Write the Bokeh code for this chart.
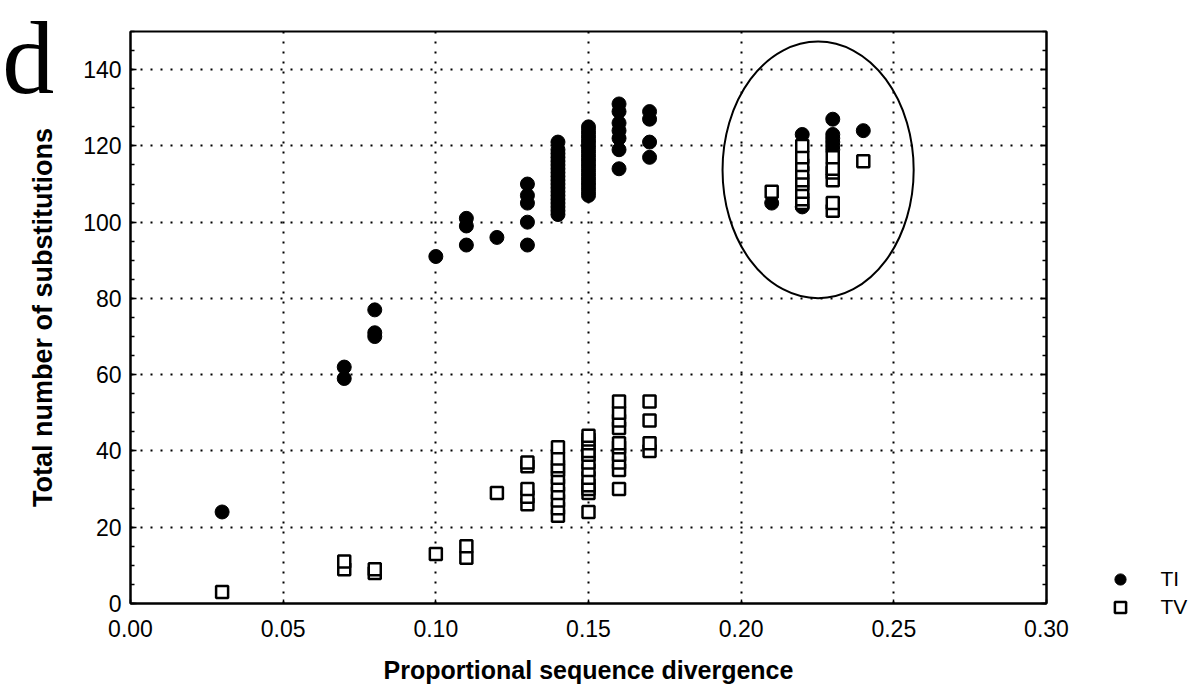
from bokeh.plotting import figure
from bokeh.models import (Range1d, FixedTicker, Legend, LegendItem, Label,
                          LinearAxis, NumeralTickFormatter, ColumnDataSource)
from bokeh.embed import file_html
from bokeh.resources import INLINE

# ---------------- data ----------------
divergence_levels = [0.03, 0.07, 0.08, 0.10, 0.11, 0.12, 0.13, 0.14,
                     0.15, 0.16, 0.17, 0.21, 0.22, 0.23, 0.24]

ti_counts = [
    [24],
    [59, 62],
    [70, 71, 77],
    [91],
    [94, 99, 101],
    [96],
    [94, 100, 105, 107, 110],
    [102, 103, 104, 105, 106, 107, 108, 109, 110, 111, 112, 113, 114, 115,
     116, 117, 118, 119, 121],
    [107, 108, 109, 110, 111, 112, 113, 114, 115, 116, 117, 118, 119, 120,
     121, 122, 123, 124, 125],
    [114, 119, 122, 124, 126, 129, 131],
    [117, 121, 127, 129],
    [105],
    [104, 123],
    [119, 120, 121, 122, 123, 127],
    [124],
]

tv_counts = [
    [3],
    [9, 11],
    [8, 9],
    [13],
    [12, 15],
    [29],
    [26, 28, 30, 36, 37],
    [23, 25, 27, 29, 31, 33, 35, 36, 38, 41],
    [24, 29, 30, 31, 33, 35, 37, 39, 40, 42, 43, 44],
    [30, 35, 37, 39, 41, 42, 46, 48, 50, 53],
    [40, 42, 48, 53],
    [108],
    [105, 106, 108, 110, 111, 113, 115, 117, 120],
    [103, 105, 111, 113, 114, 117],
    [116],
]

series_labels = ["TI", "TV"]
x_ticks = [0.00, 0.05, 0.10, 0.15, 0.20, 0.25, 0.30]
y_ticks = [0, 20, 40, 60, 80, 100, 120, 140]
y_minor = list(range(0, 151, 5))

# highlighted group (ellipse) in data units
ellipse_center = (0.2252, 113.7)
ellipse_size = (0.0626, 67.3)


def flatten(levels, groups):
    xs, ys = [], []
    for lv, vals in zip(levels, groups):
        for v in vals:
            xs.append(lv)
            ys.append(v)
    return xs, ys


ti_x, ti_y = flatten(divergence_levels, ti_counts)
tv_x, tv_y = flatten(divergence_levels, tv_counts)

FONT = "Liberation Sans"

p = figure(frame_width=916, frame_height=572,
           x_range=Range1d(0, 0.30), y_range=Range1d(0, 150),
           output_backend="svg", toolbar_location=None,
           min_border_left=130, min_border_right=151,
           min_border_top=31, min_border_bottom=85,
           background_fill_color="white", border_fill_color="white")

p.outline_line_color = "black"
p.outline_line_width = 2

# grids
for g in (p.xgrid, p.ygrid):
    g.grid_line_color = "black"
    g.grid_line_dash = "2 8"
    g.grid_line_width = 2
p.xgrid.ticker = FixedTicker(ticks=x_ticks)
p.ygrid.ticker = FixedTicker(ticks=y_ticks)

# axes
xa = p.xaxis[0]
xa.ticker = FixedTicker(ticks=x_ticks)
xa.formatter = NumeralTickFormatter(format="0.00")
ya = p.yaxis[0]
ya.ticker = FixedTicker(ticks=y_ticks, minor_ticks=y_minor)

for ax in (xa, ya):
    ax.axis_line_color = "black"
    ax.axis_line_width = 2
    ax.major_tick_line_color = "black"
    ax.major_tick_line_width = 1.5
    ax.major_tick_in = 6
    ax.major_tick_out = 0
    ax.minor_tick_line_color = "black"
    ax.minor_tick_line_width = 1.5
    ax.minor_tick_in = 4
    ax.minor_tick_out = 0
    ax.major_label_text_font = FONT
    ax.major_label_text_font_size = "23px"
    ax.major_label_text_color = "black"
    ax.axis_label_text_font = FONT
    ax.axis_label_text_font_style = "bold"
    ax.axis_label_text_color = "black"

xa.minor_tick_line_color = None
xa.major_tick_in = 4
xa.axis_label = "Proportional sequence divergence"
xa.axis_label_text_font_size = "25px"
xa.major_label_standoff = 16
xa.axis_label_standoff = 16
ya.axis_label = "Total number of substitutions"
ya.axis_label_text_font_size = "27px"
ya.major_label_standoff = 9
ya.axis_label_standoff = 22

ra = LinearAxis(ticker=FixedTicker(ticks=y_ticks, minor_ticks=y_minor),
                major_label_overrides={t: "" for t in y_ticks},
                axis_line_color="black",
                axis_line_width=2, major_tick_in=6, major_tick_out=0,
                minor_tick_in=4, minor_tick_out=0, major_tick_line_width=1.5,
                minor_tick_line_width=1.5, major_label_standoff=0)
p.add_layout(ra, "right")

# data
ti_src = ColumnDataSource(dict(x=ti_x, y=ti_y))
tv_src = ColumnDataSource(dict(x=tv_x, y=tv_y))
r_ti = p.scatter("x", "y", source=ti_src, marker="circle", size=14,
                 fill_color="black", line_color="black", line_width=1)
r_tv = p.scatter("x", "y", source=tv_src, marker="square", size=12,
                 fill_color="white", line_color="black", line_width=2.5)

p.ellipse(x=[ellipse_center[0]], y=[ellipse_center[1]],
          width=[ellipse_size[0]], height=[ellipse_size[1]],
          fill_color=None, line_color="black", line_width=2)

# legend (outside the frame, bottom right)
lg = Legend(items=[LegendItem(label=series_labels[0], renderers=[r_ti]),
                   LegendItem(label=series_labels[1], renderers=[r_tv])],
            location=(-97, -18), glyph_width=28, glyph_height=28,
            label_standoff=26, padding=0, margin=0, spacing=0,
            border_line_color=None, background_fill_alpha=0,
            label_text_font=FONT, label_text_font_size="21px",
            label_text_color="black")
p.add_layout(lg, "right")

# panel letter
p.add_layout(Label(x=-0.042, y=143.2, text="d", text_font="Liberation Serif",
                   text_font_size="104px", text_color="black",
                   text_baseline="alphabetic", text_align="left"), "right")

open("out.html", "w").write(file_html(p, INLINE))
